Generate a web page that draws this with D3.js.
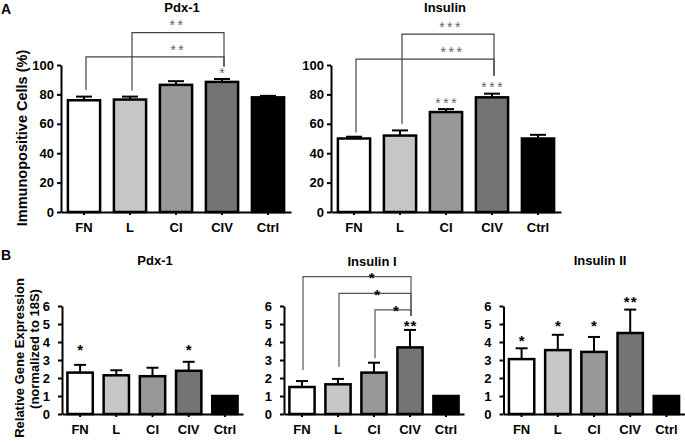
<!DOCTYPE html>
<html>
<head>
<meta charset="utf-8">
<script src="https://cdn.jsdelivr.net/npm/d3@7"></script>
<style>
  html, body { margin: 0; padding: 0; background: #fff; }
  svg { display: block; font-family: "Liberation Sans", Arial, Helvetica, sans-serif; }
</style>
</head>
<body>
<svg id="chart" width="685" height="442"></svg>
<script>
// ---------- DATA ----------
const categories = ["FN", "L", "CI", "CIV", "Ctrl"];

// Panel A (% immunopositive cells)
const pdxA = [76, 76.5, 86.5, 88.5, 78];
const pdxAErr = [2.5, 2, 2.5, 2, 1];
const pdxAStars = ["", "", "", "*", ""];
const insA = [50, 52, 68, 78, 50];
const insAErr = [1.2, 3.5, 2, 2.5, 2.5];
const insAStars = ["", "", "***", "***", ""];
const yTicksA = [0, 20, 40, 60, 80, 100];

// Panel B (relative gene expression)
const pdxB = [2.3, 2.15, 2.1, 2.4, 1.0];
const pdxBErr = [0.43, 0.28, 0.47, 0.5, 0];
const pdxBStars = ["*", "", "", "*", ""];
const pdxBStarLevel = [3.75, 0, 0, 3.75, 0];
const ins1B = [1.5, 1.65, 2.3, 3.7, 1.0];
const ins1BErr = [0.33, 0.3, 0.55, 0.97, 0];
const ins1BStars = ["", "", "", "**", ""];
const ins1BStarLevel = [0, 0, 0, 5.07, 0];
const ins2B = [3.05, 3.55, 3.45, 4.5, 1.0];
const ins2BErr = [0.6, 0.85, 0.83, 1.3, 0];
const ins2BStars = ["*", "*", "*", "**", ""];
const ins2BStarLevel = [4.24, 5.09, 5.09, 6.43, 0];
const yTicksB = [0, 1, 2, 3, 4, 5, 6];

// Comparison brackets (levels in data units; labelPos = fraction along the bracket)
const pdxABrackets = [
  { from: "L", to: "CIV", label: "**", level: 122, fromEnd: 82.7, toEnd: 99, labelPos: 0.48 },
  { from: "FN", to: "CIV", label: "**", level: 105.5, fromEnd: 83, toEnd: 99, labelPos: 0.66 }
];
const insABrackets = [
  { from: "L", to: "CIV", label: "***", level: 121, fromEnd: 60, toEnd: 92.7, labelPos: 0.52 },
  { from: "FN", to: "CIV", label: "***", level: 104, fromEnd: 54, toEnd: 92.7, labelPos: 0.69 }
];
const ins1BBrackets = [
  { from: "FN", to: "CIV", label: "*", level: 7.63, fromEnd: 2.44, toEnd: 5.44, labelPos: 0.635 },
  { from: "L", to: "CIV", label: "*", level: 6.7, fromEnd: 2.63, toEnd: 5.44, labelPos: 0.53 },
  { from: "CI", to: "CIV", label: "*", level: 5.78, fromEnd: 3.1, toEnd: 5.44, labelPos: 0.58 }
];

// ---------- STYLE ----------
const barFills = ["#ffffff", "#c6c6c6", "#989898", "#747474", "#000000"];
const FONT = "Liberation Sans, Arial, sans-serif";

const svg = d3.select("#chart");

function panel(opts) {
  const g = svg.append("g");
  const x = d3.scaleBand().domain(categories).range(opts.xRange)
    .paddingInner(0.3).paddingOuter(0.15);
  const y = d3.scaleLinear().domain(opts.yDomain).range(opts.yRange);
  const x0 = opts.xRange[0];

  // bars
  g.selectAll("rect.bar").data(opts.values).enter().append("rect")
    .attr("class", "bar")
    .attr("x", (d, i) => x(categories[i]))
    .attr("y", d => y(d))
    .attr("width", x.bandwidth())
    .attr("height", d => y(0) - y(d))
    .attr("fill", (d, i) => barFills[i])
    .attr("stroke", "#000")
    .attr("stroke-width", 2.5);

  // error bars (upper only)
  const capW = opts.capW;
  opts.values.forEach((v, i) => {
    const e = opts.errs[i];
    if (!e) return;
    const cx = x(categories[i]) + x.bandwidth() / 2;
    g.append("line").attr("x1", cx).attr("x2", cx)
      .attr("y1", y(v)).attr("y2", y(v + e))
      .attr("stroke", "#000").attr("stroke-width", 2);
    g.append("line").attr("x1", cx - capW / 2).attr("x2", cx + capW / 2)
      .attr("y1", y(v + e)).attr("y2", y(v + e))
      .attr("stroke", "#000").attr("stroke-width", 2);
  });

  // y axis
  const ya = g.append("g").attr("transform", `translate(${x0},0)`)
    .call(d3.axisLeft(y).tickValues(opts.yTicks).tickFormat(d3.format("d"))
      .tickSize(4).tickSizeOuter(0).tickPadding(opts.yPad));
  ya.attr("font-size", null).attr("font-family", null);
  ya.select(".domain").attr("stroke-width", 2);
  ya.selectAll(".tick line").attr("stroke-width", 2);
  ya.selectAll(".tick text")
    .style("font-size", opts.yTickSize + "px").style("font-weight", "bold")
    .style("font-family", FONT).attr("fill", "#000");

  // x axis
  const xa = g.append("g").attr("transform", `translate(0,${y(0)})`)
    .call(d3.axisBottom(x).tickSize(3).tickSizeOuter(0).tickPadding(8));
  xa.attr("font-size", null).attr("font-family", null);
  xa.select(".domain").attr("stroke-width", 2);
  xa.selectAll(".tick line").attr("stroke-width", 2);
  xa.selectAll(".tick text")
    .style("font-size", "13px").style("font-weight", "bold")
    .style("font-family", FONT).attr("fill", "#000")
    .attr("dy", "0.71em");

  // title
  g.append("text").attr("x", opts.title[1]).attr("y", opts.title[2])
    .attr("text-anchor", "middle").attr("font-size", 13).attr("font-weight", "bold")
    .text(opts.title[0]);

  // stars above bars
  const starStyle = (t) => t.attr("text-anchor", "middle")
    .attr("font-size", opts.starSize).attr("font-weight", opts.starWeight)
    .attr("fill", opts.starColor).attr("letter-spacing", opts.starSpacing);
  opts.stars.forEach((s, i) => {
    if (!s) return;
    const cx = x(categories[i]) + x.bandwidth() / 2;
    let cy;
    if (opts.starLevels) cy = y(opts.starLevels[i]);
    else cy = y(opts.values[i] + opts.errs[i]) - opts.starGap;
    g.append("text").attr("x", cx + opts.starSpacing / 2).attr("y", cy + opts.starSize * 0.55)
      .call(starStyle).text(s);
  });

  // brackets
  (opts.brackets || []).forEach(b => {
    const xa1 = x(b.from) + x.bandwidth() / 2 + opts.legShift;
    const xa2 = x(b.to) + x.bandwidth() / 2 + opts.legShift;
    g.append("path")
      .attr("d", `M${xa1},${y(b.fromEnd)}V${y(b.level)}H${xa2}V${y(b.toEnd)}`)
      .attr("fill", "none").attr("stroke", opts.bracketColor).attr("stroke-width", 1.2);
    const lx = xa1 + (xa2 - xa1) * b.labelPos;
    const ly = y(b.level) - opts.bracketLabelGap;
    g.append("text").attr("x", lx + opts.starSpacing / 2).attr("y", ly + opts.starSize * 0.55)
      .call(starStyle).text(b.label);
  });
  return g;
}

const commonA = {
  yDomain: [0, 100], yRange: [212, 65], yTicks: yTicksA, capW: 16, yPad: 3, yTickSize: 13,
  starSize: 14, starWeight: "normal", starColor: "#666", starSpacing: 2.5,
  starGap: 9, bracketColor: "#444", bracketLabelGap: 10, legShift: 2
};
panel(Object.assign({}, commonA, {
  xRange: [61, 291], values: pdxA, errs: pdxAErr, stars: pdxAStars,
  brackets: pdxABrackets, title: ["Pdx-1", 182, 11.5]
}));
panel(Object.assign({}, commonA, {
  xRange: [331, 561], values: insA, errs: insAErr, stars: insAStars,
  brackets: insABrackets, title: ["Insulin", 445, 11.5]
}));

const commonB = {
  yDomain: [0, 6], yRange: [414, 306], yTicks: yTicksB, capW: 12, yPad: 8, yTickSize: 13,
  starSize: 15, starWeight: "bold", starColor: "#000", starSpacing: 1,
  starGap: 10, bracketColor: "#555", bracketLabelGap: 2, legShift: 1
};
panel(Object.assign({}, commonB, {
  xRange: [62, 243], values: pdxB, errs: pdxBErr, stars: pdxBStars,
  starLevels: pdxBStarLevel, title: ["Pdx-1", 155, 264.5]
}));
panel(Object.assign({}, commonB, {
  xRange: [284, 464], values: ins1B, errs: ins1BErr, stars: ins1BStars,
  starLevels: ins1BStarLevel, brackets: ins1BBrackets, title: ["Insulin I", 372, 266]
}));
panel(Object.assign({}, commonB, {
  xRange: [503.5, 684.5], values: ins2B, errs: ins2BErr, stars: ins2BStars,
  starLevels: ins2BStarLevel, title: ["Insulin II", 600, 264.5]
}));

// axis titles
svg.append("text").attr("transform", "translate(27,138) rotate(-90)")
  .attr("text-anchor", "middle").attr("font-size", 14.5).attr("font-weight", "bold")
  .text("Immunopositive Cells (%)");
svg.append("text").attr("transform", "translate(24,358) rotate(-90)")
  .attr("text-anchor", "middle").attr("font-size", 13).attr("font-weight", "bold")
  .text("Relative Gene Expression");
svg.append("text").attr("transform", "translate(39,349) rotate(-90)")
  .attr("text-anchor", "middle").attr("font-size", 13).attr("font-weight", "bold")
  .text("(normalized to 18S)");

// panel letters
svg.append("text").attr("x", 1).attr("y", 14).attr("font-size", 14).attr("font-weight", "bold").text("A");
svg.append("text").attr("x", 1).attr("y", 260).attr("font-size", 14).attr("font-weight", "bold").text("B");
</script>
</body>
</html>
